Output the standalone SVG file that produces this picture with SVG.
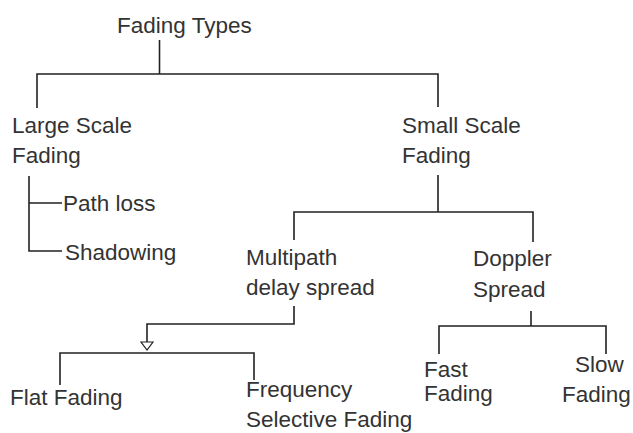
<svg xmlns="http://www.w3.org/2000/svg" width="633" height="433" viewBox="0 0 633 433">
<style>
.t{font-family:"Liberation Sans",Arial,sans-serif;font-size:22.5px;fill:#333}
.c{fill:none;stroke:#222;stroke-width:1.6}
</style>
<defs>
<marker id="tri" viewBox="0 0 14 10" refX="7" refY="9" markerWidth="14" markerHeight="10" markerUnits="userSpaceOnUse" orient="0">
<path d="M1,1 H13 L7,9 Z" fill="#fff" stroke="#222" stroke-width="1.2"/>
</marker>
</defs>
<rect width="633" height="433" fill="#fff"/>
<g id="connectors">
<path class="c" d="M159.5,40 V74"/>
<path class="c" d="M37,108 V74 H438 V107"/>
<path class="c" d="M29,176 V251 H62 M29,203 H62"/>
<path class="c" d="M438,175 V212 M294,240 V212 H533 V242"/>
<path class="c" d="M294,306 V324 H147 V350" marker-end="url(#tri)"/>
<path class="c" d="M60,385 V353 H254 V380"/>
<path class="c" d="M531,311 V326 M439,354 V326 H606 V354"/>
</g>
<g id="fading-types"><text class="t" x="117" y="33">Fading Types</text></g>
<g id="large-scale"><text class="t" x="12" y="133">Large Scale</text><text class="t" x="12" y="163">Fading</text></g>
<g id="small-scale"><text class="t" x="402" y="133">Small Scale</text><text class="t" x="402" y="163">Fading</text></g>
<g id="path-loss"><text class="t" x="63" y="211">Path loss</text></g>
<g id="shadowing"><text class="t" x="65" y="260">Shadowing</text></g>
<g id="multipath"><text class="t" x="246" y="265">Multipath</text><text class="t" x="246" y="295">delay spread</text></g>
<g id="doppler"><text class="t" x="473" y="266">Doppler</text><text class="t" x="473" y="297">Spread</text></g>
<g id="flat"><text class="t" x="10" y="405">Flat Fading</text></g>
<g id="freq"><text class="t" x="246" y="397">Frequency</text><text class="t" x="246" y="427">Selective Fading</text></g>
<g id="fast"><text class="t" x="424" y="377">Fast</text><text class="t" x="424" y="401">Fading</text></g>
<g id="slow"><text class="t" x="575" y="372">Slow</text><text class="t" x="562" y="402">Fading</text></g>
</svg>
